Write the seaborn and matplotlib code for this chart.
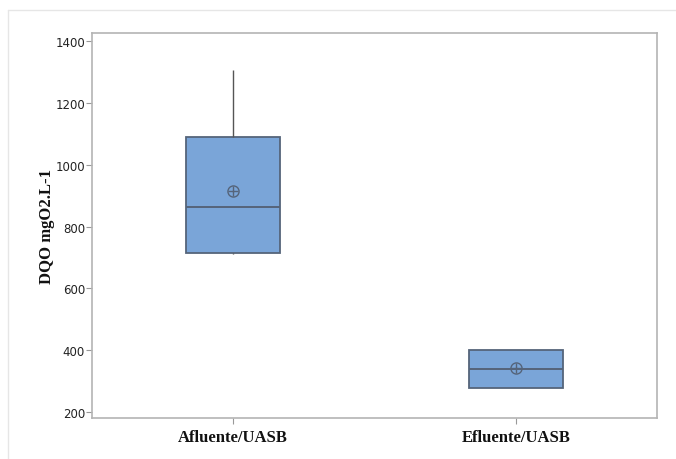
import numpy as np
import pandas as pd
import seaborn as sns
import matplotlib.pyplot as plt
from matplotlib.lines import Line2D

# Group labels and estimated samples (read from the quartiles/means in the picture)
groups = ["Afluente/UASB", "Efluente/UASB"]
afluente = [710, 712, 715, 840, 865, 900, 1090, 1100, 1305]
efluente = [278, 278, 278, 335, 340, 385, 400, 400, 400]
y_ticks = [200, 400, 600, 800, 1000, 1200, 1400]

df = pd.DataFrame({
    "grupo": [groups[0]] * len(afluente) + [groups[1]] * len(efluente),
    "dqo": afluente + efluente,
})

sns.set_theme(style="white")

box_color = "#7aa5d8"
edge_color = "#55647a"

fig = plt.figure(figsize=(6.76, 4.6), dpi=100)
ax = fig.add_axes([0.136, 0.089, 0.836, 0.837])

sns.boxplot(
    data=df,
    x="grupo",
    y="dqo",
    color=box_color,
    saturation=1,
    width=0.333,
    whis=3,
    showcaps=False,
    showfliers=False,
    showmeans=True,
    linewidth=1.3,
    boxprops={"edgecolor": edge_color, "facecolor": box_color},
    medianprops={"color": edge_color, "linewidth": 1.4},
    whiskerprops={"color": "#555555", "linewidth": 1},
    meanprops={"marker": "o", "markerfacecolor": "none",
               "markeredgecolor": edge_color, "markersize": 8,
               "markeredgewidth": 1},
    ax=ax,
)

# plus sign inside the mean circle
means = df.groupby("grupo", sort=False)["dqo"].mean()
ax.scatter(range(len(groups)), means.values, marker="+", s=55,
           color=edge_color, linewidths=1, zorder=5)

ax.set_xlim(-0.5, 1.5)
ax.set_ylim(181, 1426)
ax.set_yticks(y_ticks)
ax.set_yticklabels([str(t) for t in y_ticks], fontsize=8.5, color="#222222",
                   family="DejaVu Sans")
ax.set_xticks(range(len(groups)))
ax.set_xticklabels(groups, fontsize=12, fontweight="bold",
                   family="Liberation Serif", color="#111111")
ax.set_xlabel("")
ax.set_ylabel("DQO mgO2.L-1", fontsize=12, fontweight="bold",
              family="Liberation Serif", color="#111111")
ax.yaxis.set_label_coords(-0.066, 0.5)

for s in ax.spines.values():
    s.set_color("#b4b4b4")
    s.set_linewidth(1.2)
ax.tick_params(axis="both", which="major", length=4, width=0.8,
               color="#999999", bottom=True, left=True)
ax.tick_params(axis="x", pad=4)
ax.tick_params(axis="y", pad=1)

# faint frame lines at top and left of the image
fig.add_artist(Line2D([8 / 676, 1], [1 - 11 / 460, 1 - 11 / 460],
                      color="#e6e6e6", linewidth=1))
fig.add_artist(Line2D([8 / 676, 8 / 676], [0, 1 - 11 / 460],
                      color="#e6e6e6", linewidth=1))

fig.savefig("out.png", dpi=100)
